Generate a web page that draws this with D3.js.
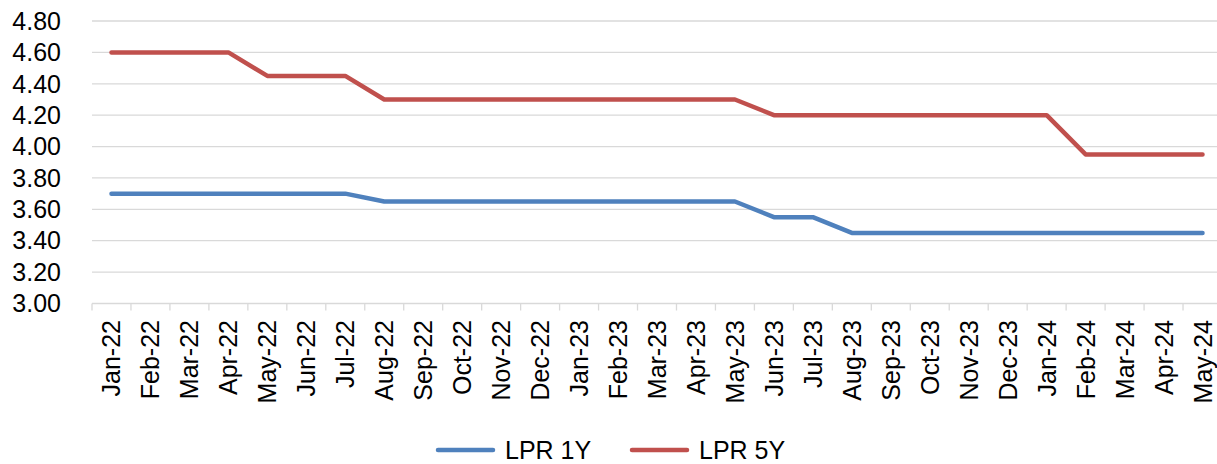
<!DOCTYPE html>
<html>
<head>
<meta charset="utf-8">
<script src="https://cdn.jsdelivr.net/npm/d3@7"></script>
<style>
  body { margin: 0; background: #fff; }
  svg text { font-family: "Liberation Sans", Arial, sans-serif; fill: #000; }
</style>
</head>
<body>
<div id="chart"></div>
<script>
const months = ['Jan-22','Feb-22','Mar-22','Apr-22','May-22','Jun-22','Jul-22','Aug-22','Sep-22','Oct-22',
    'Nov-22','Dec-22','Jan-23','Feb-23','Mar-23','Apr-23','May-23','Jun-23','Jul-23','Aug-23',
    'Sep-23','Oct-23','Nov-23','Dec-23','Jan-24','Feb-24','Mar-24','Apr-24','May-24'];

const lpr1y = [3.70,3.70,3.70,3.70,3.70,3.70,3.70,3.65,3.65,3.65,
    3.65,3.65,3.65,3.65,3.65,3.65,3.65,3.55,3.55,3.45,
    3.45,3.45,3.45,3.45,3.45,3.45,3.45,3.45,3.45];

const lpr5y = [4.60,4.60,4.60,4.60,4.45,4.45,4.45,4.30,4.30,4.30,
    4.30,4.30,4.30,4.30,4.30,4.30,4.30,4.20,4.20,4.20,
    4.20,4.20,4.20,4.20,4.20,3.95,3.95,3.95,3.95];

const yTicks = [3.00,3.20,3.40,3.60,3.80,4.00,4.20,4.40,4.60,4.80];

const series = [
    { name: 'LPR 1Y', values: lpr1y, color: '#4f81bd' },
    { name: 'LPR 5Y', values: lpr5y, color: '#c0504d' }
];

const width = 1217, height = 464;
const svg = d3.select('#chart').append('svg')
    .attr('width', width)
    .attr('height', height);

const x = d3.scaleBand().domain(months).range([92, 1222]);
const y = d3.scaleLinear().domain([3.0, 4.8]).range([303.5, 21]);

// gridlines
svg.append('g')
    .selectAll('line')
    .data(yTicks.slice(1))
    .join('line')
    .attr('x1', 92).attr('x2', width)
    .attr('y1', d => y(d)).attr('y2', d => y(d))
    .attr('stroke', '#d9d9d9')
    .attr('stroke-width', 1.3);

// y labels
svg.append('g')
    .selectAll('text')
    .data(yTicks)
    .join('text')
    .attr('x', 61)
    .attr('y', d => y(d))
    .attr('dy', '0.35em')
    .attr('text-anchor', 'end')
    .style('font-size', '25px')
    .text(d => d.toFixed(2));

// x axis line + ticks
const xAxis = svg.append('g');
xAxis.append('line')
    .attr('x1', 92).attr('x2', width)
    .attr('y1', y(3)).attr('y2', y(3))
    .attr('stroke', '#d9d9d9')
    .attr('stroke-width', 1.3);
xAxis.selectAll('line.tick')
    .data(months)
    .join('line')
    .attr('class', 'tick')
    .attr('x1', d => x(d)).attr('x2', d => x(d))
    .attr('y1', y(3)).attr('y2', y(3) + 7)
    .attr('stroke', '#d9d9d9')
    .attr('stroke-width', 1.3);

xAxis.selectAll('text')
    .data(months)
    .join('text')
    .attr('transform', d => `translate(${x(d) + x.bandwidth() / 2 + 9},${320}) rotate(-90)`)
    .attr('text-anchor', 'end')
    .style('font-size', '25px')
    .text(d => d);

// lines
const line = d3.line()
    .x((d, i) => x(months[i]) + x.bandwidth() / 2)
    .y(d => y(d));

svg.append('g')
    .selectAll('path')
    .data(series)
    .join('path')
    .attr('d', d => line(d.values))
    .attr('fill', 'none')
    .attr('stroke', d => d.color)
    .attr('stroke-width', 4.5)
    .attr('stroke-linecap', 'round')
    .attr('stroke-linejoin', 'round');

// legend
const legendX = [438, 632];
const legend = svg.append('g')
    .selectAll('g')
    .data(series)
    .join('g')
    .attr('transform', (d, i) => `translate(${legendX[i]},450)`);
legend.append('line')
    .attr('x1', 0).attr('x2', 55)
    .attr('stroke', d => d.color)
    .attr('stroke-width', 4.5)
    .attr('stroke-linecap', 'round');
legend.append('text')
    .attr('x', 67)
    .attr('dy', '0.35em')
    .style('font-size', '25px')
    .text(d => d.name);
</script>
</body>
</html>
